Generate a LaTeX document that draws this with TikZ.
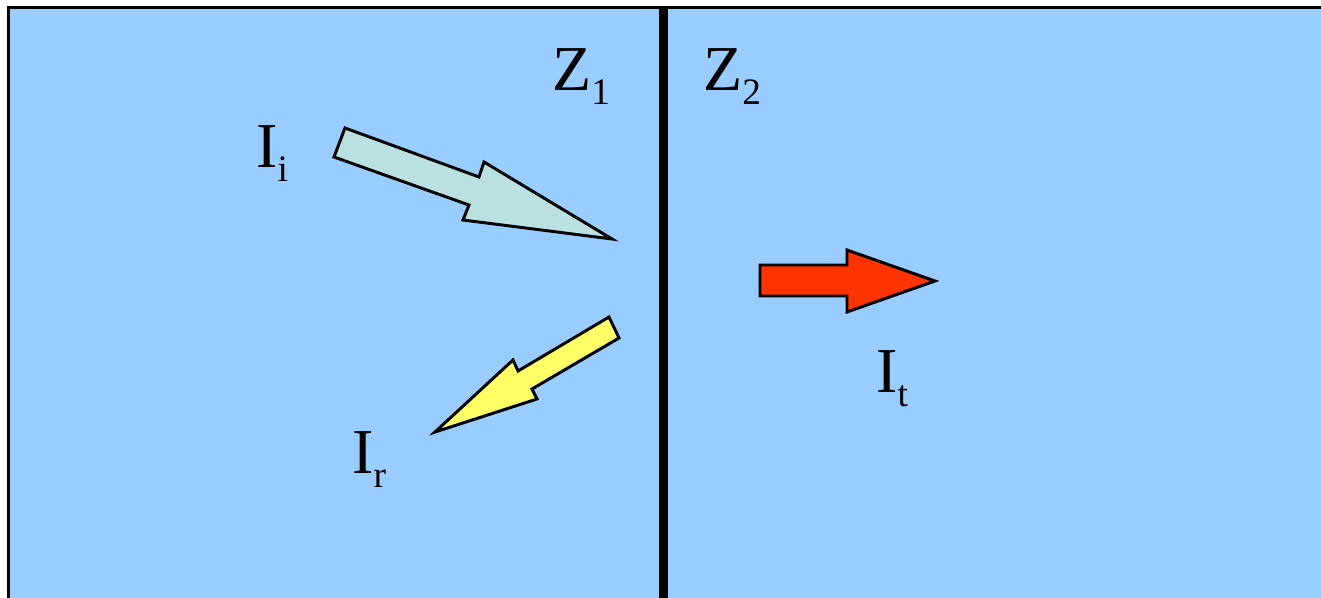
\documentclass[tikz,border=0pt]{standalone}
\usepackage{fontspec}
\setmainfont{Liberation Serif}
\usetikzlibrary{positioning}

\definecolor{mediumBlue}{RGB}{153,204,255}
\definecolor{incidentFill}{RGB}{187,224,226}
\definecolor{reflectFill}{RGB}{255,255,102}
\definecolor{transmitFill}{RGB}{255,51,0}

% main letter with a lowered small index
\newcommand{\wavesym}[2]{#1\raisebox{-10.5pt}{\fontsize{28}{28}\selectfont #2}}

\begin{document}
\begin{tikzpicture}[x=0.75pt, y=-0.75pt, line join=miter,
    arrowShape/.style={draw=black, line width=2.2pt},
    waveLabel/.style={anchor=base west, inner sep=0pt, font=\fontsize{48}{48}\selectfont}]

\pgfmathsetmacro{\xmax}{1321}
\pgfmathsetmacro{\ymax}{597}
\pgfmathsetmacro{\xwall}{663.5}

\useasboundingbox (0,0) rectangle (\xmax,\ymax);
\clip (0,0) rectangle (\xmax,\ymax);

% --- Media ---
\draw[fill=mediumBlue, line width=2.25pt] (8.5,7.5) rectangle (\xmax+20,\ymax+20);

% --- Interface ---
\draw[line width=7pt] (\xwall,7.5) -- (\xwall,\ymax+5);

% --- Incident wave ---
\draw[arrowShape, fill=incidentFill] (345,128) -- (479,177) -- (484,162) -- (612,239)
      -- (463,220) -- (469,205) -- (334,157) -- cycle;

% --- Reflected wave ---
\draw[arrowShape, fill=reflectFill] (609,317) -- (619,338) -- (532,389) -- (537,399)
      -- (435,432) -- (513,360) -- (518,371) -- cycle;

% --- Transmitted wave ---
\draw[arrowShape, fill=transmitFill] (760,265) -- (847,265) -- (847,250) -- (935,281)
      -- (847,312) -- (847,296) -- (760,296) -- cycle;

% --- Labels ---
\node[waveLabel] (zOne) at (552,90) {\wavesym{Z}{1}};
\node[waveLabel] (zTwo) at (703,90) {\wavesym{Z}{2}};
\node[waveLabel] (iInc) at (256,167) {\wavesym{I}{i}};
\node[waveLabel] (iRef) at (352,473) {\wavesym{I}{r}};
\node[waveLabel] (iTra) at (876,392) {\wavesym{I}{t}};

\end{tikzpicture}
\end{document}
